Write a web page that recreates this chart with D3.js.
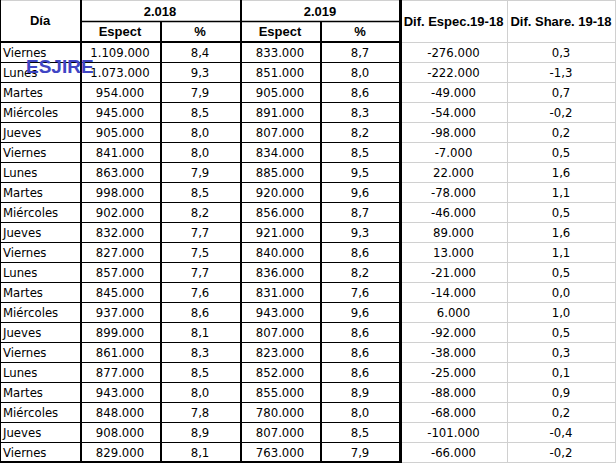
<!DOCTYPE html>
<html><head><meta charset="utf-8">
<script src="https://cdn.jsdelivr.net/npm/d3@7"></script>
<style>
html,body{margin:0;padding:0;background:#fff;}
svg{display:block;}
</style></head>
<body>
<svg id="t" width="616" height="464"></svg>
<script>
const days = ["Viernes","Lunes","Martes","Miércoles","Jueves","Viernes","Lunes","Martes","Miércoles","Jueves","Viernes","Lunes","Martes","Miércoles","Jueves","Viernes","Lunes","Martes","Miércoles","Jueves","Viernes"];
const esp18 = [1109000,1073000,954000,945000,905000,841000,863000,998000,902000,832000,827000,857000,845000,937000,899000,861000,877000,943000,848000,908000,829000];
const pct18 = [8.4,9.3,7.9,8.5,8.0,8.0,7.9,8.5,8.2,7.7,7.5,7.7,7.6,8.6,8.1,8.3,8.5,8.0,7.8,8.9,8.1];
const esp19 = [833000,851000,905000,891000,807000,834000,885000,920000,856000,921000,840000,836000,831000,943000,807000,823000,852000,855000,780000,807000,763000];
const pct19 = [8.7,8.0,8.6,8.3,8.2,8.5,9.5,9.6,8.7,9.3,8.6,8.2,7.6,9.6,8.6,8.6,8.6,8.9,8.0,8.5,7.9];
const difEsp = [-276000,-222000,-49000,-54000,-98000,-7000,22000,-78000,-46000,89000,13000,-21000,-14000,6000,-92000,-38000,-25000,-88000,-68000,-101000,-66000];
const difShare = [0.3,-1.3,0.7,-0.2,0.2,0.5,1.6,1.1,0.5,1.6,1.1,0.5,0.0,1.0,0.5,0.3,0.1,0.9,0.2,-0.4,-0.2];
const colHeaders = ["Día","Espect","%","Espect","%","Dif. Espec.19-18","Dif. Share. 19-18"];
const yearLabels = ["2.018","2.019"];
const watermark = "ESJIRE";

const loc = d3.formatLocale({decimal:",", thousands:".", grouping:[3], currency:["",""], minus:"-"});
const fInt = loc.format(",.0f"), fPct = loc.format(",.1f");

const svg = d3.select("#t");
const edges = [0,80,160,240,320,400,507,615];
const xc = i => (edges[i]+edges[i+1])/2;
const y = d3.scaleBand().domain(d3.range(days.length)).range([42,462]).padding(0);
const dataFont = "'DejaVu Sans', sans-serif";
const headFont = "'Liberation Sans', Arial, sans-serif";

const columns = [
  {vals: days, fmt: d=>d},
  {vals: esp18, fmt: fInt},
  {vals: pct18, fmt: fPct},
  {vals: esp19, fmt: fInt},
  {vals: pct19, fmt: fPct},
  {vals: difEsp, fmt: fInt},
  {vals: difShare, fmt: fPct}
];

const grid = svg.append("g");
const gray = "#d0d0d0";
grid.append("line").attr("x1",0).attr("x2",616).attr("y1",0.5).attr("y2",0.5).attr("stroke",gray);
d3.range(days.length+1).forEach(i=>{
  const yy = (i===0?42:y(i-1)+y.bandwidth())+0.5;
  grid.append("line").attr("x1",400).attr("x2",616).attr("y1",yy).attr("y2",yy).attr("stroke",gray);
});
[507.5,615.5].forEach(xx=>grid.append("line").attr("x1",xx).attr("x2",xx).attr("y1",0).attr("y2",463).attr("stroke",gray));

const tg = svg.append("g");
columns.forEach((c,ci)=>{
  tg.selectAll(null).data(c.vals).enter().append("text")
    .attr("x", ci===0 ? 3 : xc(ci))
    .attr("y", (d,i)=>y(i)+y.bandwidth()/2+5)
    .attr("text-anchor", ci===0 ? "start" : "middle")
    .attr("font-family", dataFont).attr("font-size", 13)
    .style("font-stretch","condensed")
    .attr("fill","#000")
    .text(c.fmt);
});
tg.append("text").attr("x",xc(0)).attr("y",25).attr("text-anchor","middle")
  .attr("font-family",headFont).attr("font-weight","bold").attr("font-size",13).text(colHeaders[0]);
[1,2,3,4].forEach(ci=>tg.append("text").attr("x",xc(ci)).attr("y",36).attr("text-anchor","middle")
  .attr("font-family",headFont).attr("font-weight","bold").attr("font-size",13).text(colHeaders[ci]));
yearLabels.forEach((t,k)=>tg.append("text").attr("x",(edges[1+2*k]+edges[3+2*k])/2).attr("y",16).attr("text-anchor","middle")
  .attr("font-family",headFont).attr("font-weight","bold").attr("font-size",13).text(t));
[5,6].forEach(ci=>tg.append("text").attr("x",xc(ci)).attr("y",26).attr("text-anchor","middle")
  .attr("font-family",headFont).attr("font-weight","bold").attr("font-size",13).text(colHeaders[ci]));

const bk = svg.append("g").attr("stroke","#000");
d3.range(1,days.length).forEach(i=>{
  bk.append("line").attr("x1",0).attr("x2",400).attr("y1",y(i)+0.5).attr("y2",y(i)+0.5).attr("stroke-width",1);
});
bk.append("line").attr("x1",80).attr("x2",400).attr("y1",21.5).attr("y2",21.5).attr("stroke-width",1.5);
bk.append("line").attr("x1",0).attr("x2",401).attr("y1",42).attr("y2",42).attr("stroke-width",2);
bk.append("line").attr("x1",0).attr("x2",401).attr("y1",462).attr("y2",462).attr("stroke-width",2);
bk.append("line").attr("x1",0.5).attr("x2",0.5).attr("y1",0).attr("y2",463).attr("stroke-width",1);
bk.append("line").attr("x1",81).attr("x2",81).attr("y1",0).attr("y2",463).attr("stroke-width",2);
bk.append("line").attr("x1",161).attr("x2",161).attr("y1",21).attr("y2",463).attr("stroke-width",2);
bk.append("line").attr("x1",241).attr("x2",241).attr("y1",0).attr("y2",463).attr("stroke-width",2);
bk.append("line").attr("x1",321).attr("x2",321).attr("y1",21).attr("y2",463).attr("stroke-width",2);
bk.append("line").attr("x1",400.5).attr("x2",400.5).attr("y1",0).attr("y2",463).attr("stroke-width",3);

svg.append("text").attr("x",26).attr("y",73).attr("font-family",headFont).attr("font-weight","bold")
  .attr("font-size",19).attr("fill","#3f45c4").text(watermark);
</script>
</body></html>
